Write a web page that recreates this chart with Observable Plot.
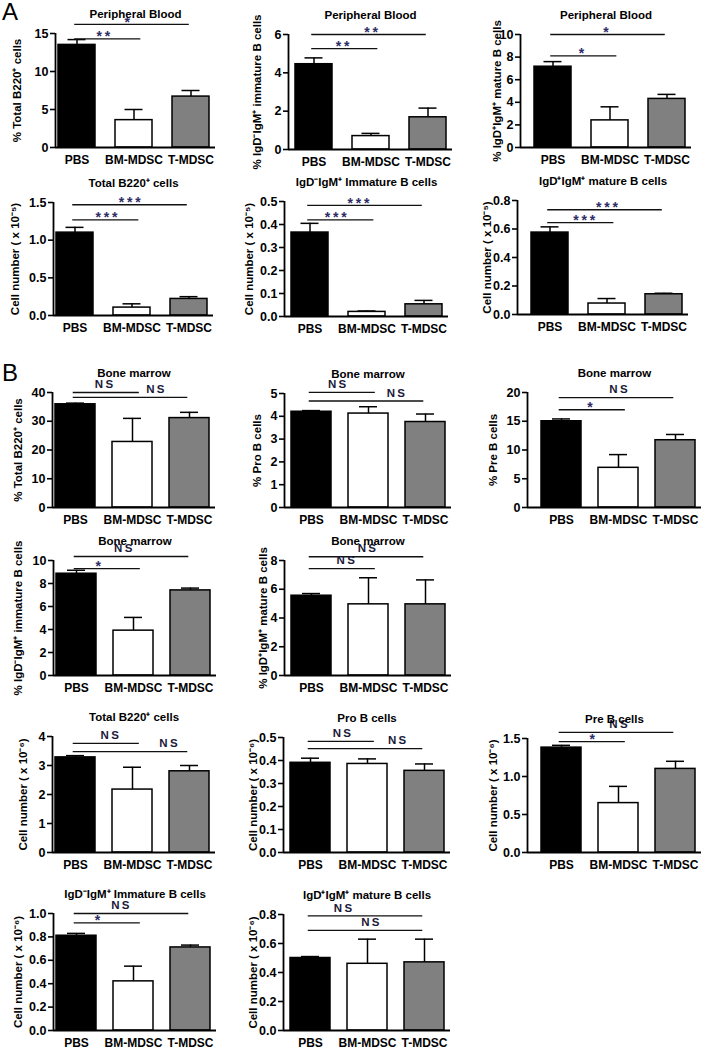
<!DOCTYPE html>
<html><head><meta charset="utf-8">
<script src="https://cdn.jsdelivr.net/npm/d3@7"></script>
<script src="https://cdn.jsdelivr.net/npm/@observablehq/plot@0.6"></script>
<style>
body{margin:0;background:#fff;}
#fig{position:relative;width:713px;height:1050px;overflow:hidden;font-family:"Liberation Sans",Arial,sans-serif;}
.letter{position:absolute;font-size:24px;line-height:24px;color:#000;}
</style></head><body><div id="fig"></div><script>
const groups = ["PBS", "BM-MDSC", "T-MDSC"];
const barColors = ["#000000", "#ffffff", "#808080"];

// Section A – peripheral blood (%)
const a1Mean = [13.5, 3.6, 6.7],   a1Sem = [0.7, 1.4, 0.8],    a1Ticks = [0, 5, 10, 15];
const a2Mean = [4.45, 0.7, 1.68],  a2Sem = [0.33, 0.14, 0.48], a2Ticks = [0, 2, 4, 6];
const a3Mean = [7.15, 2.4, 4.3],   a3Sem = [0.45, 1.2, 0.4],   a3Ticks = [0, 2, 4, 6, 8, 10];
// Section A – cell numbers (x 10^-5)
const a4Mean = [1.1, 0.105, 0.22],  a4Sem = [0.07, 0.05, 0.03],  a4Ticks = [0, 0.5, 1.0, 1.5];
const a5Mean = [0.365, 0.02, 0.053], a5Sem = [0.04, 0.004, 0.017], a5Ticks = [0, 0.1, 0.2, 0.3, 0.4, 0.5];
const a6Mean = [0.575, 0.077, 0.142], a6Sem = [0.04, 0.035, 0.007], a6Ticks = [0, 0.2, 0.4, 0.6, 0.8];
// Section B – bone marrow (%)
const b1Mean = [35.9, 22.8, 31.1], b1Sem = [0.4, 8.2, 2.0],   b1Ticks = [0, 10, 20, 30, 40];
const b2Mean = [4.2, 4.12, 3.75],  b2Sem = [0.05, 0.3, 0.35], b2Ticks = [0, 1, 2, 3, 4, 5];
const b3Mean = [15.0, 6.9, 11.7],  b3Sem = [0.4, 2.3, 1.0],   b3Ticks = [0, 5, 10, 15, 20];
const b4Mean = [8.85, 3.9, 7.4],   b4Sem = [0.3, 1.15, 0.2],  b4Ticks = [0, 2, 4, 6, 8, 10];
const b5Mean = [5.55, 4.95, 4.95], b5Sem = [0.15, 1.85, 1.7], b5Ticks = [0, 2, 4, 6, 8];
// Section B – cell numbers (x 10^-6)
const b6Mean = [3.28, 2.17, 2.8],    b6Sem = [0.06, 0.77, 0.2],   b6Ticks = [0, 1, 2, 3, 4];
const b7Mean = [0.39, 0.385, 0.355], b7Sem = [0.02, 0.022, 0.03], b7Ticks = [0, 0.1, 0.2, 0.3, 0.4, 0.5];
const b8Mean = [1.38, 0.65, 1.1],    b8Sem = [0.03, 0.22, 0.1],   b8Ticks = [0, 0.5, 1.0, 1.5];
const b9Mean = [0.81, 0.42, 0.71],   b9Sem = [0.02, 0.13, 0.02],  b9Ticks = [0, 0.2, 0.4, 0.6, 0.8, 1.0];
const b10Mean = [0.5, 0.46, 0.47],   b10Sem = [0.01, 0.17, 0.16], b10Ticks = [0, 0.2, 0.4, 0.6, 0.8];

// Significance comparisons (PBS vs group index `to`), bracket height in data units
const a1Sig = [{to: 1, y: 14.3, label: "**", at: 0.46}, {to: 2, y: 16.2, label: "*", at: 0.88}];
const a2Sig = [{to: 1, y: 5.26, label: "**", at: 0.5}, {to: 2, y: 6.0, label: "**", at: 1.0}];
const a3Sig = [{to: 1, y: 8.1, label: "*", at: 0.5}, {to: 2, y: 10.0, label: "*", at: 0.93}];
const a4Sig = [{to: 1, y: 1.27, label: "***", at: 0.55}, {to: 2, y: 1.47, label: "***", at: 0.96}];
const a5Sig = [{to: 1, y: 0.42, label: "***", at: 0.45}, {to: 2, y: 0.483, label: "***", at: 0.85}];
const a6Sig = [{to: 1, y: 0.645, label: "***", at: 0.6}, {to: 2, y: 0.735, label: "***", at: 1.0}];
const b1Sig = [{to: 1, y: 40.0, label: "NS", at: 0.5}, {to: 2, y: 38.3, label: "NS", at: 1.4}];
const b2Sig = [{to: 1, y: 5.05, label: "NS", at: 0.45}, {to: 2, y: 4.67, label: "NS", at: 1.48}];
const b3Sig = [{to: 2, y: 19.1, label: "NS", at: 1.0}, {to: 1, y: 17.0, label: "*", at: 0.5}];
const b4Sig = [{to: 2, y: 10.35, label: "NS", at: 0.82}, {to: 1, y: 9.3, label: "*", at: 0.38}];
const b5Sig = [{to: 2, y: 8.26, label: "NS", at: 0.97}, {to: 1, y: 7.43, label: "NS", at: 0.6}];
const b6Sig = [{to: 1, y: 3.76, label: "NS", at: 0.6}, {to: 2, y: 3.48, label: "NS", at: 1.63}];
const b7Sig = [{to: 1, y: 0.483, label: "NS", at: 0.55}, {to: 2, y: 0.452, label: "NS", at: 1.52}];
const b8Sig = [{to: 2, y: 1.58, label: "NS", at: 1.0}, {to: 1, y: 1.46, label: "*", at: 0.54}];
const b9Sig = [{to: 2, y: 1.0, label: "NS", at: 0.77}, {to: 1, y: 0.92, label: "*", at: 0.37}];
const b10Sig = [{to: 2, y: 0.79, label: "NS", at: 0.57}, {to: 2, y: 0.69, label: "NS", at: 1.05}];

// Text
const pb = "Peripheral Blood", bm = "Bone marrow";
const yTotal = "% Total B220\u207A cells";
const yImm = "% IgD\u207BIgM\u207A immature B cells";
const yMat = "% IgD\u207AIgM\u207A mature B cells";
const yCell5 = "Cell number ( x 10\u207B\u2075)";
const yCell6 = "Cell number ( x 10\u207B\u2076)";
const tTotal = "Total B220\u207A cells";
const tImm = "IgD\u207BIgM\u207A Immature B cells";
const tMat = "IgD\u207AIgM\u207A mature B cells";

// Layout (pixel geometry only)
const panels = [
  {mean: a1Mean, sem: a1Sem, ticks: a1Ticks, sig: a1Sig, title: pb, label: yTotal, sec: "A", col: 1, ax: 55, y1: 33, y0: 147, lx: -38},
  {mean: a2Mean, sem: a2Sem, ticks: a2Ticks, sig: a2Sig, title: pb, label: yImm, sec: "A", col: 2, ax: 288, y1: 34, y0: 149, lx: -31},
  {mean: a3Mean, sem: a3Sem, ticks: a3Ticks, sig: a3Sig, title: pb, label: yMat, sec: "A", col: 3, ax: 520, y1: 34, y0: 147, lx: -23},
  {mean: a4Mean, sem: a4Sem, ticks: a4Ticks, sig: a4Sig, title: tTotal, label: yCell5, sec: "A", col: 1, ax: 53, y1: 202, y0: 315, lx: -38},
  {mean: a5Mean, sem: a5Sem, ticks: a5Ticks, sig: a5Sig, title: tImm, label: yCell5, sec: "A", col: 2, ax: 284, y1: 201, y0: 316, lx: -35},
  {mean: a6Mean, sem: a6Sem, ticks: a6Ticks, sig: a6Sig, title: tMat, label: yCell5, sec: "A", col: 3, ax: 517, y1: 200, y0: 314, lx: -30},
  {mean: b1Mean, sem: b1Sem, ticks: b1Ticks, sig: b1Sig, title: bm, label: yTotal, sec: "B", col: 1, ax: 52, y1: 392, y0: 507, lx: -34},
  {mean: b2Mean, sem: b2Sem, ticks: b2Ticks, sig: b2Sig, title: bm, label: "% Pro B cells", sec: "B", col: 2, ax: 284, y1: 393, y0: 507, lx: -27},
  {mean: b3Mean, sem: b3Sem, ticks: b3Ticks, sig: b3Sig, title: bm, label: "% Pre B cells", sec: "B", col: 3, ax: 527, y1: 392, y0: 507, lx: -34},
  {mean: b4Mean, sem: b4Sem, ticks: b4Ticks, sig: b4Sig, title: bm, label: yImm, sec: "B", col: 1, ax: 53, y1: 560, y0: 675, lx: -35},
  {mean: b5Mean, sem: b5Sem, ticks: b5Ticks, sig: b5Sig, title: bm, label: yMat, sec: "B", col: 2, ax: 284, y1: 560, y0: 675, lx: -21},
  {mean: b6Mean, sem: b6Sem, ticks: b6Ticks, sig: b6Sig, title: tTotal, label: yCell6, sec: "B", col: 1, ax: 52, y1: 736, y0: 852, lx: -29},
  {mean: b7Mean, sem: b7Sem, ticks: b7Ticks, sig: b7Sig, title: "Pro B cells", label: yCell6, sec: "B", col: 2, ax: 283, y1: 737, y0: 852, lx: -30},
  {mean: b8Mean, sem: b8Sem, ticks: b8Ticks, sig: b8Sig, title: "Pre B cells", label: yCell6, sec: "B", col: 3, ax: 527, y1: 738, y0: 852, lx: -34},
  {mean: b9Mean, sem: b9Sem, ticks: b9Ticks, sig: b9Sig, title: tImm, label: yCell6, sec: "B", col: 1, ax: 53, y1: 913, y0: 1030, lx: -35},
  {mean: b10Mean, sem: b10Sem, ticks: b10Ticks, sig: b10Sig, title: tMat, label: yCell6, sec: "B", col: 2, ax: 283, y1: 914, y0: 1030, lx: -30}
];

const FONT = '"Liberation Sans", Arial, Helvetica, sans-serif';
const fig = document.getElementById("fig");
const spaced = s => s.split("").join("\u2009");

function drawPanel(p) {
  const gap = {1: 3, 2: 7, 3: 14}[p.col];
  const step = 57, bw = p.sec === "A" ? 37 : 40;
  const h = bw / 2 / step, cap = 9 / step;
  const xl = -h - gap / step, xr = 2 + h + 6 / step;
  const mL = 55, mR = 4, mT = 36, mB = 28;
  const W = mL + (xr - xl) * step + mR;
  const H = mT + (p.y0 - p.y1) + mB;
  const ymax = p.ticks[p.ticks.length - 1];
  const isInt = p.ticks.every(Number.isInteger);
  const fmt = isInt ? d3.format("d") : d3.format(".1f");
  const rows = groups.map((g, i) => ({g, i, mean: p.mean[i], top: p.mean[i] + p.sem[i], color: barColors[i]}));
  const sig = p.sig.map(s => ({...s, x1: -0.04, x2: s.to === 1 ? 1.12 : 1.97, txt: spaced(s.label)}));
  const stars = sig.filter(s => s.label.includes("*"));
  const ns = sig.filter(s => !s.label.includes("*"));
  const svg = Plot.plot({
    width: W, height: H, marginLeft: mL, marginRight: mR, marginTop: mT, marginBottom: mB,
    style: {background: "transparent", overflow: "visible", fontFamily: FONT, fontWeight: "bold", fontSize: "12.5px", color: "#000"},
    x: {type: "linear", domain: [xl, xr], axis: null},
    y: {domain: [0, ymax], axis: null},
    color: {type: "identity"},
    marks: [
      Plot.ruleX(rows, {x: "i", y1: "mean", y2: "top", stroke: "#000", strokeWidth: 1.5}),
      Plot.ruleY(rows, {y: "top", x1: d => d.i - cap, x2: d => d.i + cap, stroke: "#000", strokeWidth: 1.5}),
      Plot.rect(rows, {x1: d => d.i - h, x2: d => d.i + h, y1: 0, y2: "mean", fill: "color", stroke: "#000", strokeWidth: 1.5}),
      Plot.axisY({ticks: p.ticks, tickFormat: fmt, tickSize: 5, tickPadding: 2, strokeWidth: 1.6, fontSize: 12.5, fontWeight: "bold", label: null}),
      Plot.axisX({ticks: [0, 1, 2], tickFormat: i => groups[i], tickSize: 0, tickPadding: 8, fontSize: 12, fontWeight: "bold", label: null}),
      Plot.ruleX([xl], {y1: 0, y2: ymax, stroke: "#000", strokeWidth: 1.8}),
      Plot.ruleY([0], {stroke: "#000", strokeWidth: 1.8}),
      Plot.ruleY(sig, {y: "y", x1: "x1", x2: "x2", stroke: "#111", strokeWidth: 1.3}),
      Plot.text(stars, {x: "at", y: "y", text: "txt", dy: -2, fontSize: 14, fill: "#2e2c66", fontWeight: "bold"}),
      Plot.text(ns, {x: "at", y: "y", text: "txt", dy: -8, fontSize: 11.5, fill: "#1a1a3a", fontWeight: "bold"}),
      Plot.text([p.title], {frameAnchor: "top", dy: -24, fontSize: 11.5, fontWeight: "bold", fill: "#000"}),
      Plot.text([p.label], {frameAnchor: "left", textAnchor: "middle", rotate: -90, dx: p.lx, fontSize: 11.5, fontWeight: "bold", fill: "#000"})
    ]
  });
  svg.style.position = "absolute";
  svg.style.left = (p.ax - mL) + "px";
  svg.style.top = (p.y1 - mT) + "px";
  fig.appendChild(svg);
}

panels.forEach(drawPanel);

const letters = [{t: "A", x: 2, y: 0}, {t: "B", x: 2, y: 361}];
letters.forEach(l => {
  const d = document.createElement("div");
  d.className = "letter";
  d.textContent = l.t;
  d.style.left = l.x + "px";
  d.style.top = l.y + "px";
  fig.appendChild(d);
});
</script></body></html>
